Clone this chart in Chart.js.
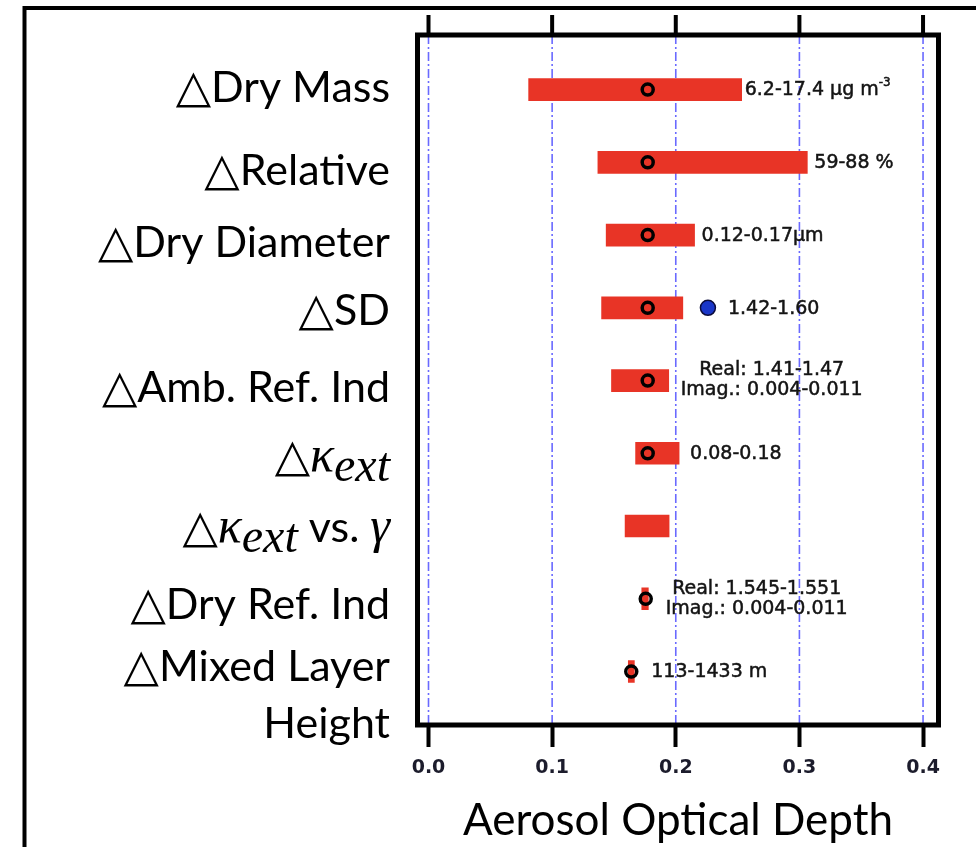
<!DOCTYPE html>
<html>
<head>
<meta charset="utf-8">
<script src="https://cdn.jsdelivr.net/npm/chart.js@4.4.1/dist/chart.umd.min.js"></script>
<style>
  html, body { margin: 0; padding: 0; background: #fff; }
  canvas { display: block; }
</style>
</head>
<body>
<canvas id="aod" width="976" height="847"></canvas>
<script>
// Range of aerosol optical depth produced by varying each input parameter
const categories = ['△Dry Mass', '△Relative', '△Dry Diameter', '△SD', '△Amb. Ref. Ind',
                    '△κ_{ext}', '△κ_{ext} vs. γ', '△Dry Ref. Ind', ['△Mixed Layer', 'Height']];
const aodLow  = [0.081, 0.137, 0.1437, 0.140, 0.148, 0.1675, 0.159, 0.1725, 0.1616];
const aodHigh = [0.2533, 0.3064, 0.2152, 0.2057, 0.1943, 0.2027, 0.1946, 0.1778, 0.1665];
const aodBase = [0.1773, 0.1773, 0.1773, 0.1773, 0.1773, 0.1773, null, 0.1757, 0.1640];
const aodAlt  = [null, null, null, 0.226, null, null, null, null, null];
const rangeText = ['6.2-17.4 μg m^{-3}', '59-88 %', '0.12-0.17μm', '1.42-1.60',
                   ['Real: 1.41-1.47', 'Imag.: 0.004-0.011'], '0.08-0.18', '',
                   ['Real: 1.545-1.551', 'Imag.: 0.004-0.011'], '113-1433 m'];
const xTicks = [0, 0.1, 0.2, 0.3, 0.4];
const xTitle = 'Aerosol Optical Depth';

// Text placement tweaks (pixels)
const labelShift = [-6, 5, 4, -1, 3, 0, -2, 2, -9];
const textGap = [3, 7, 7, 12, 12, 11, 0, 12, 12];

const catStyle = {
  plain: { font: '43px Lato' },
  tri:   { font: '46px "DejaVu Sans"' },
  greek: { font: 'italic 50px "Liberation Serif"' },
  sub:   { font: 'italic 48px "Liberation Serif"', dy: 10 },
  sup:   { font: '26px Lato', dy: -16 }
};
const valStyle = {
  plain: { font: '19px "DejaVu Sans"' },
  tri:   { font: '19px "DejaVu Sans"' },
  greek: { font: '19px "DejaVu Sans"' },
  sub:   { font: '12px "DejaVu Sans"', dy: 6 },
  sup:   { font: '12px "DejaVu Sans"', dy: -8 },
  stroke: 0.5
};

// Split a label into runs: plain text, the triangle, Greek letters, _{sub} and ^{sup}
function parseRich(str) {
  const runs = [];
  const add = (t, kind) => {
    const prev = runs[runs.length - 1];
    if (prev && prev.kind === kind) prev.t += t; else runs.push({ t, kind });
  };
  const addPlain = s => {
    for (const ch of s) {
      add(ch, ch === '△' ? 'tri' : (/[\u03b1-\u03c9]/.test(ch) ? 'greek' : 'plain'));
    }
  };
  const re = /([_^])\{([^}]*)\}/g;
  let last = 0, m;
  while ((m = re.exec(str)) !== null) {
    addPlain(str.slice(last, m.index));
    add(m[2], m[1] === '_' ? 'sub' : 'sup');
    last = re.lastIndex;
  }
  addPlain(str.slice(last));
  return runs;
}

function richWidth(ctx, str, style) {
  let w = 0;
  parseRich(str).forEach(r => { ctx.font = style[r.kind].font; w += ctx.measureText(r.t).width; });
  return w;
}

function drawRich(ctx, str, x, y, align, style) {
  const runs = parseRich(str);
  let w = 0;
  runs.forEach(r => { ctx.font = style[r.kind].font; r.w = ctx.measureText(r.t).width; w += r.w; });
  let cx = align === 'right' ? x - w : (align === 'center' ? x - w / 2 : x);
  ctx.textAlign = 'left';
  runs.forEach(r => {
    ctx.font = style[r.kind].font;
    const ty = y + (style[r.kind].dy || 0);
    ctx.fillText(r.t, cx, ty);
    if (style.stroke) {
      ctx.lineWidth = style.stroke;
      ctx.strokeStyle = ctx.fillStyle;
      ctx.strokeText(r.t, cx, ty);
    }
    cx += r.w;
  });
}

const decorations = {
  id: 'decorations',
  beforeDatasetsDraw(chart) {
    const { ctx, chartArea: a, scales: { x } } = chart;
    ctx.save();
    ctx.strokeStyle = '#6a6aff';
    ctx.lineWidth = 1.6;
    ctx.setLineDash([9, 3, 2, 3]);
    xTicks.forEach(v => {
      const px = x.getPixelForValue(v);
      ctx.beginPath();
      ctx.moveTo(px, a.top);
      ctx.lineTo(px, a.bottom);
      ctx.stroke();
    });
    ctx.restore();
  },
  afterDatasetsDraw(chart) {
    const { ctx, chartArea: a, scales: { x } } = chart;
    ctx.save();
    ctx.strokeStyle = '#000';
    ctx.lineWidth = 5;
    ctx.strokeRect(a.left, a.top, a.right - a.left, a.bottom - a.top);
    // tick marks along the top edge
    ctx.lineWidth = 4;
    xTicks.forEach(v => {
      const px = x.getPixelForValue(v);
      ctx.beginPath();
      ctx.moveTo(px, a.top);
      ctx.lineTo(px, 15);
      ctx.stroke();
    });
    ctx.restore();
  },
  afterDraw(chart) {
    const { ctx, scales: { x, y } } = chart;
    ctx.save();
    // outer frame
    ctx.strokeStyle = '#000';
    ctx.lineWidth = 4;
    ctx.beginPath();
    ctx.moveTo(24.5, 900);
    ctx.lineTo(24.5, 8);
    ctx.lineTo(1000, 8);
    ctx.stroke();

    // category labels
    ctx.fillStyle = '#000';
    ctx.textBaseline = 'alphabetic';
    categories.forEach((lab, i) => {
      const lines = Array.isArray(lab) ? lab : [lab];
      const base = y.getPixelForValue(i) + 18 + labelShift[i];
      lines.forEach((ln, k) => drawRich(ctx, ln, 390, base + k * 57, 'right', catStyle));
    });

    // range annotations beside each bar
    ctx.fillStyle = '#141414';
    ctx.textBaseline = 'middle';
    rangeText.forEach((txt, i) => {
      if (!txt || (Array.isArray(txt) && !txt.length)) return;
      const py = y.getPixelForValue(i);
      let anchor = x.getPixelForValue(aodHigh[i]);
      if (aodBase[i] != null) anchor = Math.max(anchor, x.getPixelForValue(aodBase[i]) + 8);
      if (aodAlt[i] != null) anchor = Math.max(anchor, x.getPixelForValue(aodAlt[i]) + 8);
      const left = anchor + textGap[i];
      if (Array.isArray(txt)) {
        const wMax = Math.max(...txt.map(t => richWidth(ctx, t, valStyle)));
        txt.forEach((t, k) => drawRich(ctx, t, left + wMax / 2, py - 10 + k * 20, 'center', valStyle));
      } else {
        drawRich(ctx, txt, left, py + 1, 'left', valStyle);
      }
    });
    ctx.restore();
  }
};

const idx = arr => arr.map((v, i) => (v == null ? null : { x: v, y: i })).filter(Boolean);

new Chart(document.getElementById('aod'), {
  type: 'bar',
  data: {
    datasets: [
      {
        type: 'scatter',
        label: 'base case',
        data: idx(aodBase),
        pointRadius: 5.5,
        pointHoverRadius: 5.5,
        borderWidth: 3.5,
        borderColor: '#000',
        backgroundColor: 'rgba(0,0,0,0)',
        order: 0
      },
      {
        type: 'scatter',
        label: 'alternate SD',
        data: idx(aodAlt),
        pointRadius: 7.5,
        pointHoverRadius: 7.5,
        borderWidth: 1.5,
        borderColor: '#0c0c3c',
        backgroundColor: '#1a36c8',
        order: 1
      },
      {
        type: 'bar',
        label: 'AOD range',
        data: aodLow.map((lo, i) => ({ x: [lo, aodHigh[i]], y: i })),
        backgroundColor: '#e83426',
        barThickness: 22,
        order: 2
      }
    ]
  },
  options: {
    indexAxis: 'y',
    responsive: false,
    animation: false,
    layout: { padding: { left: 417.5, right: 37.5, top: 35, bottom: 0 } },
    plugins: { legend: { display: false }, tooltip: { enabled: false } },
    scales: {
      x: {
        type: 'linear',
        position: 'bottom',
        min: -0.0089,
        max: 0.4125,
        offset: false,
        afterBuildTicks: s => { s.ticks = xTicks.map(v => ({ value: v })); },
        afterFit: s => { s.height = 122; },
        border: { display: false },
        grid: { offset: false, drawOnChartArea: false, drawTicks: true, tickLength: 22, tickColor: '#000', tickWidth: 4, color: '#000' },
        ticks: {
          padding: 10,
          color: '#1c1c2c',
          autoSkip: false,
          maxRotation: 0,
          font: { family: '"DejaVu Sans"', size: 19, weight: 'bold' },
          callback: v => Number(v).toFixed(1)
        },
        title: {
          display: true,
          text: xTitle,
          color: '#000',
          font: { family: 'Lato', size: 44 },
          padding: { top: 0, bottom: 0 }
        }
      },
      y: { type: 'linear', reverse: true, min: -0.75, max: 8.735, offset: false, display: false }
    }
  },
  plugins: [decorations]
});
</script>
</body>
</html>
